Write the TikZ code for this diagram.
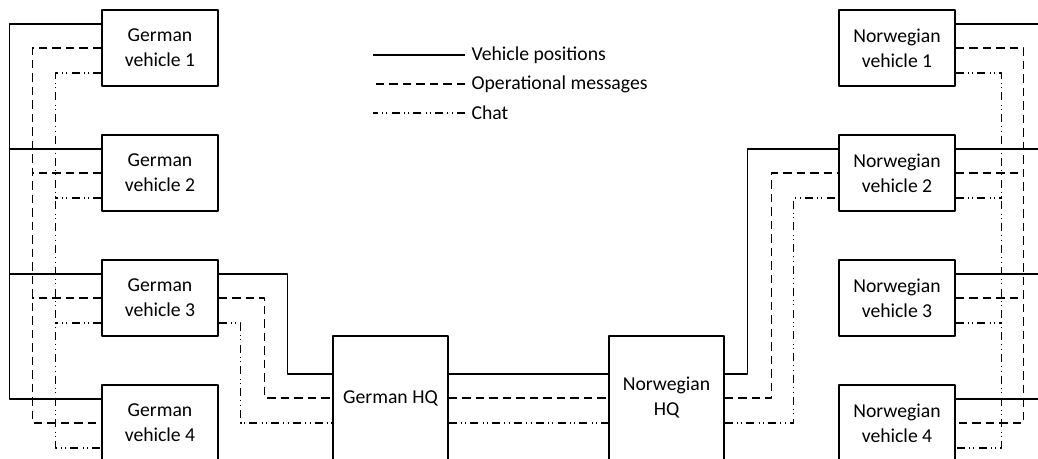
\documentclass[tikz,border=0pt]{standalone}
\usepackage{fontspec}
\setmainfont{Carlito}
\usetikzlibrary{calc}

\begin{document}
\begin{tikzpicture}[x=0.025cm, y=-0.025cm, line join=round,
    box/.style={draw, line width=0.8pt, align=center, minimum width=82.5pt, minimum height=54.1pt,
      font=\fontsize{14}{17.8}\selectfont},
    hqbox/.style={box, minimum width=81.8pt, minimum height=88.2pt},
    posline/.style={line width=0.8pt},
    opsline/.style={line width=0.8pt, dash pattern=on 6pt off 3.6pt},
    chatline/.style={line width=0.8pt, dash pattern=on 5.7pt off 3pt on 0.7pt off 2.4pt on 0.7pt off 3pt},
    legtext/.style={right, inner sep=4.5pt, font=\fontsize{14}{17.8}\selectfont}]
    \useasboundingbox (0,0) rectangle (1038,459);
    \clip (0,0) rectangle (1038,459);

    \node[box] (gv1) at (160,48) {German\\vehicle 1};
    \node[box] (gv2) at (160,173) {German\\vehicle 2};
    \node[box] (gv3) at (160,298) {German\\vehicle 3};
    \node[box] (gv4) at (160,423) {German\\vehicle 4};
    \node[hqbox] (ghq) at (390.5,398) {German HQ};
    \node[hqbox] (nhq) at (666.5,398) {Norwegian\\HQ};
    \node[box] (nv1) at (897,48) {Norwegian\\vehicle 1};
    \node[box] (nv2) at (897,173) {Norwegian\\vehicle 2};
    \node[box] (nv3) at (897,298) {Norwegian\\vehicle 3};
    \node[box] (nv4) at (897,423) {Norwegian\\vehicle 4};

    \draw[posline] ($(gv1.west)+(0,-24)$) -- ++(-92,0) |- ($(gv4.west)+(0,-24)$);
    \draw[opsline] (gv1.west) -- ++(-69,0) |- (gv4.west);
    \draw[chatline] ($(gv1.west)+(0,25)$) -- ++(-46,0) |- ($(gv4.west)+(0,25)$);
    \foreach \v in {2,3} {
        \draw[posline] ($(gv\v.west)+(0,-24)$) -- ++(-92,0);
        \draw[opsline] (gv\v.west) -- ++(-69,0);
        \draw[chatline] ($(gv\v.west)+(0,25)$) -- ++(-46,0);
    }

    \draw[posline] ($(nv1.east)+(0,-24)$) -- ++(91,0) |- ($(nv4.east)+(0,-24)$);
    \draw[opsline] (nv1.east) -- ++(68,0) |- (nv4.east);
    \draw[chatline] ($(nv1.east)+(0,25)$) -- ++(46,0) |- ($(nv4.east)+(0,25)$);
    \foreach \v in {2,3} {
        \draw[posline] ($(nv\v.east)+(0,-24)$) -- ++(91,0);
        \draw[opsline] (nv\v.east) -- ++(68,0);
        \draw[chatline] ($(nv\v.east)+(0,25)$) -- ++(46,0);
    }

    \draw[posline] ($(gv3.east)+(0,-24)$) -- ++(69,0) |- ($(ghq.west)+(0,-24)$);
    \draw[opsline] (gv3.east) -- ++(46,0) |- (ghq.west);
    \draw[chatline] ($(gv3.east)+(0,25)$) -- ++(22,0) |- ($(ghq.west)+(0,25)$);

    \draw[posline] ($(ghq.east)+(0,-24)$) -- ($(nhq.west)+(0,-24)$);
    \draw[opsline] (ghq.east) -- (nhq.west);
    \draw[chatline] ($(ghq.east)+(0,25)$) -- ($(nhq.west)+(0,25)$);

    \draw[posline] ($(nhq.east)+(0,-24)$) -- ++(23,0) |- ($(nv2.west)+(0,-24)$);
    \draw[opsline] (nhq.east) -- ++(47,0) |- (nv2.west);
    \draw[chatline] ($(nhq.east)+(0,25)$) -- ++(69,0) |- ($(nv2.west)+(0,25)$);

    \node[legtext] (lpos) at (465,55) {Vehicle positions};
    \node[legtext] (lops) at (465,84) {Operational messages};
    \node[legtext] (lchat) at (465,113) {Chat};
    \draw[posline] (lpos.west) -- ++(-92,0);
    \draw[opsline] (lops.west) -- ++(-92,0);
    \draw[chatline] (lchat.west) -- ++(-92,0);
\end{tikzpicture}
\end{document}
